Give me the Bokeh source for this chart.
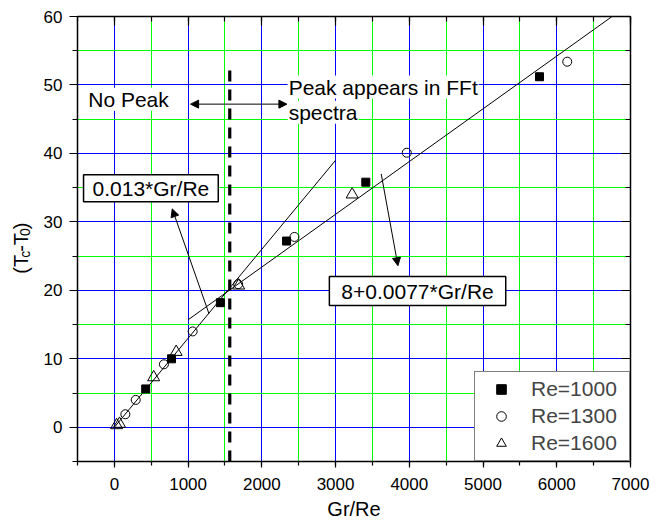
import math
from bokeh.plotting import figure
from bokeh.layouts import row
from bokeh.models import (Range1d, LinearAxis, SingleIntervalTicker, Label,
                          Arrow, NormalHead, CustomLabelingPolicy)
from bokeh.embed import file_html
from bokeh.resources import INLINE

# ---------------- data ----------------
re1000_x = [425, 775, 1438, 2335, 3410, 5766]
re1000_y = [5.6, 10.0, 18.2, 27.2, 35.8, 51.2]

re1300_x = [149, 290, 672, 1062, 1679, 2442, 3966, 6142]
re1300_y = [1.9, 4.0, 9.2, 14.0, 20.9, 27.8, 40.1, 53.4]

re1600_x = [30, 70, 533, 838, 1686, 3225]
re1600_y = [0.3, 0.5, 7.3, 11.0, 20.7, 34.0]

fit1_x = [0, 3000]          # 0.013*Gr/Re
fit1_y = [0.0, 39.0]
fit2_x = [1000, 6750]       # 8+0.0077*Gr/Re
fit2_y = [15.7, 60.0]

threshold_x = [1565, 1565]
threshold_y = [-5, 52.8]

series_labels = ["Re=1000", "Re=1300", "Re=1600"]

FONT = "Liberation Sans"
LEFT_W = 38

p = figure(width=660 - LEFT_W, height=527, output_backend="svg",
           toolbar_location=None,
           x_range=Range1d(-500, 7000), y_range=Range1d(-5, 60),
           min_border_left=77 - LEFT_W, min_border_right=30, min_border_top=16,
           min_border_bottom=66, outline_line_color=None,
           background_fill_color="white", border_fill_color="white")

xt = SingleIntervalTicker(interval=1000, num_minor_ticks=2)
yt = SingleIntervalTicker(interval=10, num_minor_ticks=2)

for ax, tk in ((p.xaxis[0], xt), (p.yaxis[0], yt)):
    ax.ticker = tk
    ax.axis_line_color = "black"
    ax.axis_line_width = 1.5
    ax.major_tick_line_color = "black"
    ax.minor_tick_line_color = "black"
    ax.major_tick_line_width = 1.2
    ax.minor_tick_line_width = 1.2
    ax.major_tick_in = 0
    ax.minor_tick_in = 0
    ax.major_label_text_font = FONT
    ax.major_label_text_font_size = "17px"
    ax.major_label_text_color = "black"

p.xaxis[0].major_tick_out = 6
p.xaxis[0].minor_tick_out = 4
p.xaxis[0].major_label_standoff = 10
p.xaxis[0].axis_label = "Gr/Re"
p.xaxis[0].axis_label_text_font = FONT
p.xaxis[0].axis_label_text_font_size = "20px"
p.xaxis[0].axis_label_text_font_style = "normal"
p.xaxis[0].axis_label_text_color = "black"
p.xaxis[0].axis_label_standoff = 5

p.yaxis[0].major_tick_out = 8
p.yaxis[0].minor_tick_out = 5
p.yaxis[0].major_label_standoff = 7

for g in (p.xgrid[0], p.ygrid[0]):
    g.grid_line_color = "#0000ff"
    g.grid_line_width = 1
    g.minor_grid_line_color = "#00ff00"
    g.minor_grid_line_width = 1

# top / right frame axes with inward ticks and no labels
no_labels = CustomLabelingPolicy(code="""
for (const i of indices) indices.unset(i)
return indices
""")
for loc, tk in (("above", xt), ("right", yt)):
    ax = LinearAxis(ticker=tk, major_tick_in=9, major_tick_out=0,
                    minor_tick_in=5, minor_tick_out=0,
                    major_label_policy=no_labels,
                    major_label_text_font_size="1px",
                    major_label_standoff=0,
                    axis_line_color="black", axis_line_width=1.5,
                    major_tick_line_width=1.2, minor_tick_line_width=1.2)
    p.add_layout(ax, loc)

# fit lines
p.line(fit1_x, fit1_y, line_color="black", line_width=1)
p.line(fit2_x, fit2_y, line_color="black", line_width=1)

# threshold dashed line
p.line(threshold_x, threshold_y, line_color="black", line_width=3.2,
       line_dash="11 8")

# data
p.scatter(re1000_x, re1000_y, marker="square", size=8, fill_color="black",
          line_color="black", legend_label=series_labels[0])
p.scatter(re1300_x, re1300_y, marker="circle", size=9, fill_color=None,
          line_color="black", line_width=1, legend_label=series_labels[1])
p.scatter(re1600_x, re1600_y, marker="triangle", size=12, fill_color=None,
          line_color="black", line_width=1, legend_label=series_labels[2])

# legend
lg = p.legend[0]
lg.location = "bottom_right"
lg.margin = 0
lg.border_line_color = "black"
lg.border_line_width = 1.5
lg.background_fill_color = "white"
lg.background_fill_alpha = 1
lg.label_text_font = FONT
lg.label_text_font_size = "21px"
lg.glyph_width = 42
lg.glyph_height = 24
lg.label_height = 24
lg.label_width = 93
lg.spacing = 3
lg.padding = 5
lg.label_standoff = 9

# annotations (text)
def box_label(text, x, y, pad, border):
    lab = Label(x=x, y=y, text=text, text_font=FONT, text_font_size="21px",
                text_align="left", text_baseline="middle", text_color="black",
                background_fill_color="white", background_fill_alpha=1,
                padding=pad)
    if border:
        lab.border_line_color = "black"
        lab.border_line_width = 1.5
    p.add_layout(lab)

box_label("No Peak", -422, 47.9, dict(left=5, right=8, top=0, bottom=0), False)
box_label("Peak appears in FFt", 2350, 49.7, dict(left=1, right=1, top=0, bottom=0), False)
box_label("spectra", 2350, 46.0, dict(left=1, right=1, top=0, bottom=0), False)
box_label("0.013*Gr/Re", -418, 34.9, dict(left=9, right=9, top=2, bottom=2), True)
box_label("8+0.0077*Gr/Re", 2916, 19.9, dict(left=12, right=12, top=3, bottom=3), True)

# arrows
p.add_layout(Arrow(x_start=1034, y_start=47.2, x_end=2340, y_end=47.2,
                   start=NormalHead(size=8, fill_color="black", line_color="black"),
                   end=NormalHead(size=8, fill_color="black", line_color="black"),
                   line_color="black", line_width=1))
p.add_layout(Arrow(x_start=1283, y_start=16.6, x_end=785, y_end=31.9,
                   end=NormalHead(size=8, fill_color="black", line_color="black"),
                   line_color="black", line_width=1))
p.add_layout(Arrow(x_start=3619, y_start=37.0, x_end=3846, y_end=23.6,
                   end=NormalHead(size=8, fill_color="black", line_color="black"),
                   line_color="black", line_width=1))

# ---- narrow strip on the left holding the y-axis title "(Tc-T0)" ----
ylab = figure(width=LEFT_W, height=527, output_backend="svg",
              toolbar_location=None,
              x_range=Range1d(0, LEFT_W), y_range=Range1d(0, 527),
              min_border_left=0, min_border_right=0, min_border_top=0,
              min_border_bottom=0, outline_line_color=None,
              background_fill_color="white", border_fill_color="white")
ylab.axis.visible = False
ylab.grid.visible = False

pieces = [("(T", 20, 20, 222.4), ("c", 14, 24, 241.3), ("-T", 20, 20, 248.3),
          ("0", 14, 24, 267.2), (")", 20, 20, 275.0)]
for txt, fs, lx, ly in pieces:
    ylab.add_layout(Label(x=lx, y=ly, text=txt, angle=math.pi / 2,
                          text_font=FONT, text_font_size=f"{fs}px",
                          text_align="left", text_baseline="alphabetic",
                          text_color="black"))

layout = row(ylab, p, spacing=0)
open("out.html", "w").write(file_html(layout, INLINE))
